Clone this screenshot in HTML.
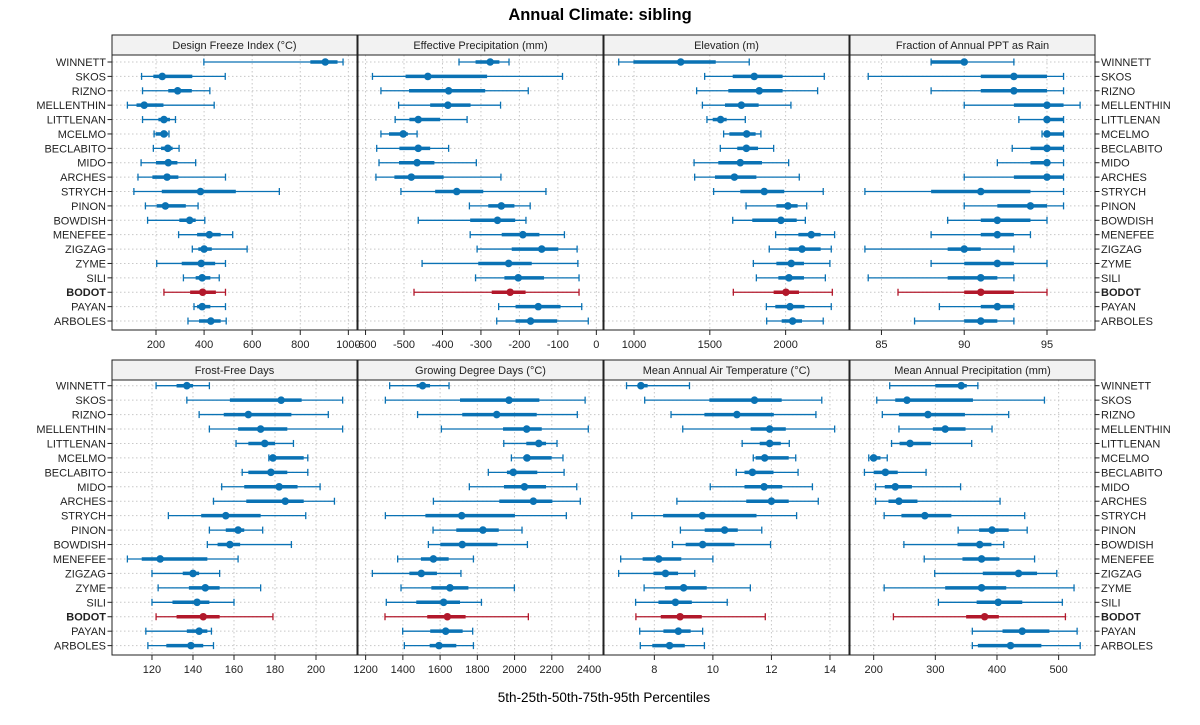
<!DOCTYPE html>
<html><head><meta charset="utf-8"><style>
body{margin:0;background:#fff;}
svg{display:block;font-family:"Liberation Sans",sans-serif;}
</style></head><body>
<svg id="chart" width="1200" height="725" viewBox="0 0 1200 725">
<text x="600" y="20" text-anchor="middle" font-size="16.5" font-weight="bold">Annual Climate: sibling</text>
<text x="604" y="702" text-anchor="middle" font-size="13.5">5th-25th-50th-75th-95th Percentiles</text>
</svg>
<script>
const categories = ["WINNETT","SKOS","RIZNO","MELLENTHIN","LITTLENAN","MCELMO","BECLABITO","MIDO","ARCHES","STRYCH","PINON","BOWDISH","MENEFEE","ZIGZAG","ZYME","SILI","BODOT","PAYAN","ARBOLES"];
const highlight = "BODOT";
const panelTitles = ["Design Freeze Index (°C)","Effective Precipitation (mm)","Elevation (m)","Fraction of Annual PPT as Rain","Frost-Free Days","Growing Degree Days (°C)","Mean Annual Air Temperature (°C)","Mean Annual Precipitation (mm)"];
const dfi = [[399,842,904,955,978],[140,189,226,351,488],[144,251,290,349,424],[81,119,151,231,442],[144,210,233,258,281],[192,199,233,249,254],[189,221,249,269,296],[138,200,251,289,365],[125,185,246,293,489],[108,224,385,532,713],[156,203,239,324,375],[165,297,340,365,403],[294,371,422,469,519],[351,376,400,432,579],[203,307,388,446,489],[314,365,392,426,463],[233,342,394,449,489],[358,371,392,426,489],[333,379,428,469,492]];
const effPpt = [[-357,-314,-276,-252,-227],[-582,-496,-438,-284,-88],[-560,-487,-384,-289,-177],[-514,-432,-386,-327,-249],[-523,-486,-463,-406,-336],[-560,-539,-502,-490,-466],[-571,-512,-463,-432,-384],[-565,-513,-466,-421,-312],[-573,-525,-481,-397,-248],[-508,-419,-363,-294,-131],[-330,-281,-247,-213,-172],[-463,-328,-257,-211,-183],[-328,-246,-191,-148,-83],[-310,-220,-142,-99,-50],[-453,-307,-228,-168,-48],[-314,-239,-203,-136,-45],[-474,-272,-224,-184,-45],[-254,-210,-151,-93,-38],[-259,-210,-171,-102,-21]];
const elevation = [[899,996,1308,1539,1760],[1466,1651,1793,1980,2255],[1413,1622,1826,1980,2211],[1451,1600,1708,1822,2035],[1481,1519,1571,1611,1734],[1591,1629,1743,1802,1837],[1569,1681,1741,1818,1921],[1396,1556,1701,1844,2020],[1400,1534,1662,1807,2090],[1525,1701,1859,1991,2248],[1739,1939,2015,2079,2139],[1651,1780,1969,2073,2130],[1934,2084,2169,2231,2323],[1892,2020,2108,2231,2301],[1787,1939,2037,2121,2292],[1807,1952,2022,2121,2262],[1655,1921,2002,2088,2308],[1873,1932,2029,2125,2301],[1875,1974,2046,2108,2248]];
const fracRain = [[88,88,90,90,93],[84.2,91,93,95,96],[88,91,93,95,96],[90,93,95,96,97],[93.3,95,95,96,96],[94.7,94.85,95,96,96],[92.9,94,95,96,96],[92,94,95,95,96],[90,93,95,96,96],[84,88,91,94,96],[90,92,94,95,96],[89,91,92,94,95],[88,91,92,93,94],[84,89,90,91,93],[88,90,92,93,95],[84.2,89,91,92,93],[86,90,91,93,95],[88.5,91,92,93,93],[87,90,91,92,93]];
const frostFree = [[122,132,137,140,148],[137,158,183,193,213],[143,155,167,188,206],[148,162,173,186,213],[161,167,175,180,189],[177,178,179,194,196],[164,167,178,186,196],[154,165,182,191,202],[150,166,185,194,209],[128,144,156,173,195],[148,156,162,165,174],[147,152,158,163,188],[108,115,124,147,162],[120,135,140,143,153],[123,138,146,153,173],[120,130,142,148,160],[122,132,145,153,179],[117,137,143,147,149],[118,127,139,145,150]];
const gdd = [[1329,1474,1506,1546,1648],[1306,1707,1970,2133,2379],[1479,1719,1904,2119,2337],[1607,1938,2065,2146,2396],[1942,2063,2130,2169,2228],[1983,2047,2067,2199,2260],[1859,1959,1993,2122,2266],[1757,1943,2053,2169,2334],[1564,1918,2101,2203,2353],[1306,1521,1716,2002,2278],[1562,1687,1830,1915,2040],[1537,1601,1719,1908,2069],[1372,1497,1564,1646,1779],[1236,1435,1499,1583,1712],[1390,1553,1653,1752,1999],[1311,1472,1619,1707,1822],[1304,1531,1639,1737,2074],[1399,1547,1630,1721,1775],[1408,1544,1594,1687,1779]];
const maat = [[7.05,7.43,7.54,7.77,9.2],[7.67,9.88,11.42,12.35,13.72],[8.57,9.71,10.82,12.08,13.52],[8.97,11.29,11.94,12.49,14.16],[11.0,11.6,11.94,12.32,12.61],[11.38,11.46,11.77,12.59,12.83],[10.8,11.08,11.35,12.07,12.91],[9.91,11.08,11.75,12.37,13.4],[8.77,11.14,12.0,12.59,13.6],[7.23,8.3,9.64,11.49,12.86],[8.89,9.72,10.4,10.85,11.67],[8.62,9.07,9.65,10.74,11.97],[6.85,7.6,8.15,8.92,10.0],[6.78,7.97,8.38,8.81,9.38],[7.65,8.36,9.0,9.79,11.28],[7.36,8.14,8.72,9.28,10.49],[7.37,8.22,8.88,9.62,11.79],[7.5,8.31,8.82,9.24,9.65],[7.52,7.93,8.52,9.04,9.71]];
const map = [[226,300,342,351,369],[205,235,254,361,477],[214,241,288,348,419],[241,296,316,349,392],[229,242,259,293,359],[192,194,200,211,222],[185,200,219,239,285],[203,218,235,262,341],[203,224,241,271,405],[217,245,283,326,445],[337,371,392,419,449],[249,336,372,391,411],[282,344,375,404,461],[299,377,435,465,497],[217,316,375,415,525],[305,367,402,441,506],[232,350,380,403,511],[360,409,441,485,530],[360,369,422,472,535]];
const ticksDfi = [200,400,600,800,1000];
const ticksEff = [-600,-500,-400,-300,-200,-100,0];
const ticksElev = [1000,1500,2000];
const ticksFrac = [85,90,95];
const ticksFfd = [120,140,160,180,200];
const ticksGdd = [1200,1400,1600,1800,2000,2200,2400];
const ticksMaat = [8,10,12,14];
const ticksMap = [200,300,400,500];

const NS="http://www.w3.org/2000/svg";
const svg=document.getElementById('chart');
function mk(tag,attrs,parent){const e=document.createElementNS(NS,tag);for(const k in attrs)e.setAttribute(k,attrs[k]);(parent||svg).appendChild(e);return e;}
const cols=[[112,357],[358,603],[604,849],[850,1095]];
const rowsY=[{top:35,plotTop:55,bottom:330,first:62,step:14.39},{top:360,plotTop:380,bottom:655,first:385.7,step:14.44}];
const panels=[
 {data:dfi,ticks:ticksDfi,dom:[17,1036]},
 {data:effPpt,ticks:ticksEff,dom:[-619.6,17.3]},
 {data:elevation,ticks:ticksElev,dom:[802,2418]},
 {data:fracRain,ticks:ticksFrac,dom:[83.1,97.9]},
 {data:frostFree,ticks:ticksFfd,dom:[100.5,220]},
 {data:gdd,ticks:ticksGdd,dom:[1159,2475]},
 {data:maat,ticks:ticksMaat,dom:[6.28,14.65]},
 {data:map,ticks:ticksMap,dom:[161.6,559]}];
panels.forEach((p,pi)=>{
  const r=rowsY[Math.floor(pi/4)], c=cols[pi%4];
  const g=mk('g',{});
  
  
  const xs=v=>c[0]+(v-p.dom[0])/(p.dom[1]-p.dom[0])*(c[1]-c[0]);
  const ys=i=>r.first+i*r.step;
  const strip=mk('rect',{x:c[0],y:r.top,width:c[1]-c[0],height:r.plotTop-r.top,fill:'#f2f2f2',stroke:'#222','stroke-width':1},g);
  
  
  const st=mk('text',{x:(c[0]+c[1])/2,y:r.top+14,'text-anchor':'middle','font-size':11,fill:'#222'},g);
  st.textContent=panelTitles[pi];
  
  
  categories.forEach((n,i)=>mk('line',{x1:c[0],x2:c[1],y1:ys(i),y2:ys(i),stroke:'#c8c8c8','stroke-dasharray':'1.5,2.5'},g));
  p.ticks.forEach(t=>{
    const x=xs(t);
    if(x>c[0]&&x<c[1]) mk('line',{x1:x,x2:x,y1:r.plotTop,y2:r.bottom,stroke:'#c8c8c8','stroke-dasharray':'1.5,2.5'},g);
    mk('line',{x1:x,x2:x,y1:r.bottom,y2:r.bottom+5,stroke:'#222'},g);
    const tl=mk('text',{x:x,y:r.bottom+18,'text-anchor':'middle','font-size':11,fill:'#222'},g);
    tl.textContent=t;
    
    
  });
  p.data.forEach((d,i)=>{
    const col=categories[i]===highlight?'#b2182b':'#0a72b4';
    const y=ys(i);
    mk('line',{x1:xs(d[0]),x2:xs(d[4]),y1:y,y2:y,stroke:col,'stroke-width':1.3},g);
    mk('line',{x1:xs(d[0]),x2:xs(d[0]),y1:y-3.5,y2:y+3.5,stroke:col,'stroke-width':1.3},g);
    mk('line',{x1:xs(d[4]),x2:xs(d[4]),y1:y-3.5,y2:y+3.5,stroke:col,'stroke-width':1.3},g);
    const bar=mk('line',{x1:xs(d[1]),x2:xs(d[3]),y1:y,y2:y,stroke:col,'stroke-width':3.5},g);
    
    
    const dot=mk('circle',{cx:xs(d[2]),cy:y,r:3.8,fill:col},g);
    
    
  });
  mk('rect',{x:c[0],y:r.plotTop,width:c[1]-c[0],height:r.bottom-r.plotTop,fill:'none',stroke:'#222','stroke-width':1},g);
});
rowsY.forEach(r=>{
  categories.forEach((n,i)=>{
    const y=r.first+i*r.step+4;
    const bold=n===highlight?'bold':'normal';
    const a=mk('text',{x:106,y:y,'text-anchor':'end','font-size':11,'font-weight':bold,fill:'#222'});
    a.textContent=n;
    
    
    const b=mk('text',{x:1101,y:y,'text-anchor':'start','font-size':11,'font-weight':bold,fill:'#222'});
    b.textContent=n;
    
    
    mk('line',{x1:107.5,x2:112,y1:y-4,y2:y-4,stroke:'#222'});
    mk('line',{x1:1095,x2:1099.5,y1:y-4,y2:y-4,stroke:'#222'});
  });
});
</script>
</body></html>
